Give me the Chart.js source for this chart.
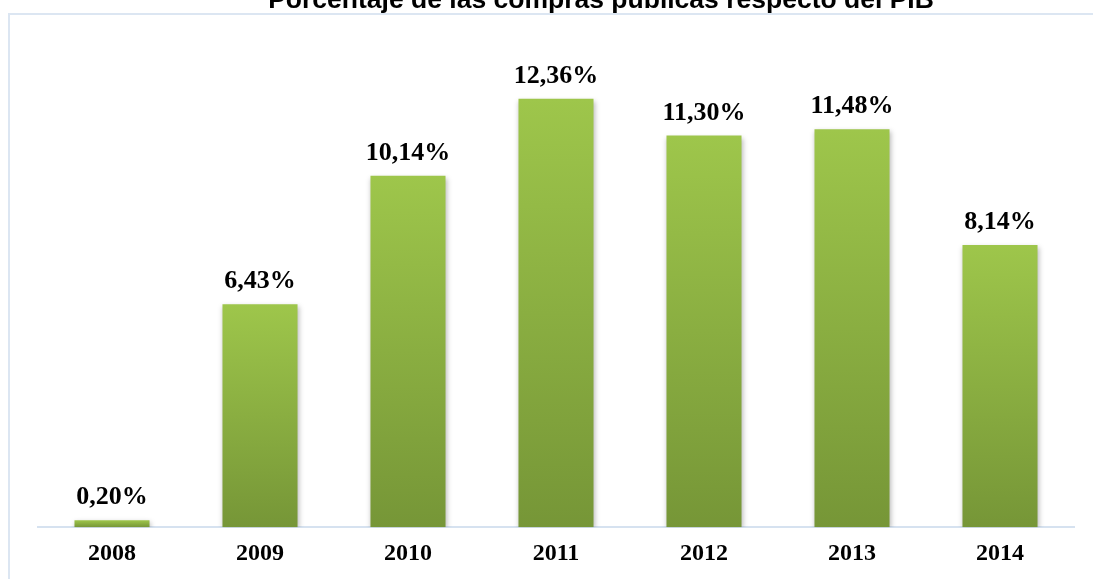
<!DOCTYPE html>
<html>
<head>
<meta charset="utf-8">
<script src="https://cdn.jsdelivr.net/npm/chart.js@4"></script>
<style>
  html, body { margin: 0; padding: 0; background: #fff; overflow: hidden; width: 1093px; height: 579px; }
  #frame { position: absolute; left: 8px; top: 13px; width: 1300px; height: 700px;
           border-left: 2px solid #dce6f2; border-top: 2px solid #dce6f2; }
  #wrap { position: absolute; left: 0; top: -20px; width: 1093px; height: 600px; }
</style>
</head>
<body>
<div id="frame"></div>
<div id="wrap"><canvas id="pibChart"></canvas></div>
<script>
const years = ['2008', '2009', '2010', '2011', '2012', '2013', '2014'];
const pctPib = [0.20, 6.43, 10.14, 12.36, 11.30, 11.48, 8.14];
const titleText = 'Porcentaje de las compras públicas respecto del PIB';

function fmt(v) {
    return v.toFixed(2).replace('.', ',') + '%';
}

// bar gradient, light on top and darker at the base
function barFill(context) {
    const chart = context.chart;
    const area = chart.chartArea;
    if (!area || !chart.scales.y) return '#8db443';
    const v = context.raw;
    const top = chart.scales.y.getPixelForValue(v);
    const bottom = chart.scales.y.getPixelForValue(0);
    const g = chart.ctx.createLinearGradient(0, top, 0, bottom);
    g.addColorStop(0, '#9ec64b');
    g.addColorStop(1, '#769637');
    return g;
}

// title sits off-centre in the original, half cut by the top edge
const titlePlugin = {
    id: 'cutTitle',
    afterDraw(chart) {
        const ctx = chart.ctx;
        ctx.save();
        ctx.font = 'bold 26.5px "Liberation Sans", Arial, sans-serif';
        ctx.fillStyle = '#000';
        ctx.textAlign = 'center';
        ctx.textBaseline = 'alphabetic';
        ctx.fillText(titleText, 601, 28);
        ctx.restore();
    }
};

const shadowPlugin = {
    id: 'barShadow',
    beforeDatasetsDraw(chart) {
        const ctx = chart.ctx;
        ctx.save();
        ctx.shadowColor = 'rgba(0,0,0,0.28)';
        ctx.shadowBlur = 5;
        ctx.shadowOffsetX = 1;
        ctx.shadowOffsetY = 2;
    },
    afterDatasetsDraw(chart) {
        chart.ctx.restore();
    }
};

const valueLabels = {
    id: 'valueLabels',
    afterDatasetsDraw(chart) {
        const ctx = chart.ctx;
        const meta = chart.getDatasetMeta(0);
        ctx.save();
        ctx.font = 'bold 26px "Liberation Serif", "Times New Roman", serif';
        ctx.fillStyle = '#000';
        ctx.textAlign = 'center';
        ctx.textBaseline = 'alphabetic';
        meta.data.forEach(function(bar, i) {
            ctx.fillText(fmt(pctPib[i]), bar.x, bar.y - 16);
        });
        ctx.restore();
    }
};

const ctx = document.getElementById('pibChart').getContext('2d');
const pibChart = new Chart(ctx, {
    type: 'bar',
    data: {
        labels: years,
        datasets: [{
            label: 'Compras públicas / PIB',
            data: pctPib,
            backgroundColor: barFill,
            borderWidth: 0,
            barPercentage: 0.507,
            categoryPercentage: 1
        }]
    },
    options: {
        responsive: true,
        maintainAspectRatio: false,
        animation: false,
        layout: {
            padding: { left: 38, right: 19, top: 62, bottom: 0 }
        },
        plugins: {
            legend: { display: false },
            tooltip: { enabled: false },
            title: { display: false }
        },
        scales: {
            x: {
                grid: { display: false, drawTicks: false },
                border: { display: true, color: '#d6e2f0', width: 2 },
                ticks: {
                    color: '#000',
                    padding: 12,
                    font: { family: '"Liberation Serif", "Times New Roman", serif', size: 24, weight: 'bold' }
                }
            },
            y: {
                display: false,
                min: 0,
                max: 14
            }
        }
    },
    plugins: [shadowPlugin, valueLabels, titlePlugin]
});
</script>
</body>
</html>
